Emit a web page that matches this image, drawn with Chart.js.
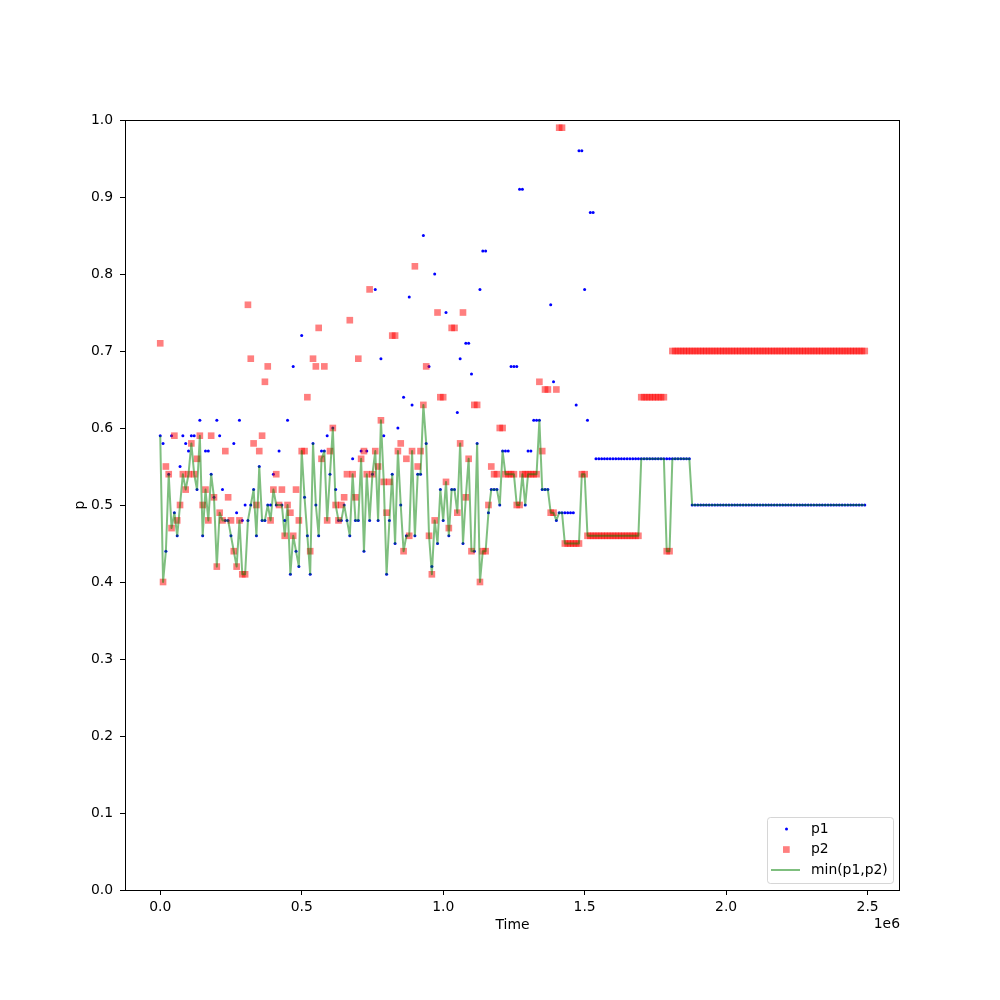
<!DOCTYPE html>
<html>
<head>
<meta charset="utf-8">
<script src="https://cdn.jsdelivr.net/npm/chart.js@4.4.1/dist/chart.umd.min.js"></script>
<style>
  html, body { margin: 0; padding: 0; background: #fff; }
</style>
</head>
<body>
<canvas id="chart" width="1000" height="1000"></canvas>
<script>
// time axis, in steps of 10 000
const timeSteps = [
  0,1,2,3,4,5,6,7,8,9,10,11,12,13,14,15,16,17,18,19,20,21,22,23,24,
  25,26,27,28,29,30,31,32,33,34,35,36,37,38,39,40,41,42,43,44,45,46,47,48,49,
  50,51,52,53,54,55,56,57,58,59,60,61,62,63,64,65,66,67,68,69,70,71,72,73,74,
  75,76,77,78,79,80,81,82,83,84,85,86,87,88,89,90,91,92,93,94,95,96,97,98,99,
  100,101,102,103,104,105,106,107,108,109,110,111,112,113,114,115,116,117,118,119,120,121,122,123,124,
  125,126,127,128,129,130,131,132,133,134,135,136,137,138,139,140,141,142,143,144,145,146,147,148,149,
  150,151,152,153,154,155,156,157,158,159,160,161,162,163,164,165,166,167,168,169,170,171,172,173,174,
  175,176,177,178,179,180,181,182,183,184,185,186,187,188,189,190,191,192,193,194,195,196,197,198,199,
  200,201,202,203,204,205,206,207,208,209,210,211,212,213,214,215,216,217,218,219,220,221,222,223,224,
  225,226,227,228,229,230,231,232,233,234,235,236,237,238,239,240,241,242,243,244,245,246,247,248,249
];
const TIME_UNIT = 10000;

const p1 = [
  0.59,0.58,0.44,0.54,0.59,0.49,0.46,0.55,0.59,0.58,
  0.57,0.59,0.59,0.52,0.61,0.46,0.57,0.57,0.54,0.51,
  0.61,0.59,0.52,0.48,0.48,0.46,0.58,0.49,0.61,0.48,
  0.50,0.48,0.50,0.52,0.46,0.55,0.48,0.48,0.50,0.50,
  0.54,0.50,0.57,0.50,0.48,0.61,0.41,0.68,0.44,0.42,
  0.72,0.51,0.46,0.41,0.58,0.50,0.46,0.57,0.57,0.59,
  0.54,0.60,0.52,0.48,0.48,0.50,0.48,0.46,0.56,0.48,
  0.48,0.57,0.44,0.57,0.48,0.54,0.78,0.48,0.69,0.59,
  0.41,0.48,0.54,0.45,0.60,0.50,0.64,0.46,0.77,0.63,
  0.46,0.54,0.54,0.85,0.58,0.68,0.42,0.80,0.45,0.52,
  0.48,0.75,0.46,0.52,0.52,0.62,0.69,0.45,0.71,0.71,
  0.67,0.44,0.58,0.78,0.83,0.83,0.49,0.52,0.52,0.52,
  0.50,0.57,0.57,0.57,0.68,0.68,0.68,0.91,0.91,0.50,
  0.57,0.57,0.61,0.61,0.61,0.52,0.52,0.52,0.76,0.66,
  0.48,0.49,0.49,0.49,0.49,0.49,0.49,0.63,0.96,0.96,
  0.78,0.61,0.88,0.88,0.56,0.56,0.56,0.56,0.56,0.56,
  0.56,0.56,0.56,0.56,0.56,0.56,0.56,0.56,0.56,0.56,
  0.56,0.56,0.56,0.56,0.56,0.56,0.56,0.56,0.56,0.56,
  0.56,0.56,0.56,0.56,0.56,0.56,0.56,0.56,0.50,0.50,
  0.50,0.50,0.50,0.50,0.50,0.50,0.50,0.50,0.50,0.50,
  0.50,0.50,0.50,0.50,0.50,0.50,0.50,0.50,0.50,0.50,
  0.50,0.50,0.50,0.50,0.50,0.50,0.50,0.50,0.50,0.50,
  0.50,0.50,0.50,0.50,0.50,0.50,0.50,0.50,0.50,0.50,
  0.50,0.50,0.50,0.50,0.50,0.50,0.50,0.50,0.50,0.50,
  0.50,0.50,0.50,0.50,0.50,0.50,0.50,0.50,0.50,0.50
];

const p2 = [
  0.71,0.40,0.55,0.54,0.47,0.59,0.48,0.50,0.54,0.52,
  0.54,0.58,0.54,0.56,0.59,0.50,0.52,0.48,0.59,0.51,
  0.42,0.49,0.48,0.57,0.51,0.48,0.44,0.42,0.48,0.41,
  0.41,0.76,0.69,0.58,0.50,0.57,0.59,0.66,0.68,0.48,
  0.52,0.54,0.50,0.52,0.46,0.50,0.49,0.46,0.52,0.48,
  0.57,0.57,0.64,0.44,0.69,0.68,0.73,0.56,0.68,0.48,
  0.57,0.60,0.50,0.48,0.50,0.51,0.54,0.74,0.54,0.51,
  0.69,0.56,0.57,0.54,0.78,0.54,0.57,0.55,0.61,0.53,
  0.49,0.53,0.72,0.72,0.57,0.58,0.44,0.56,0.46,0.57,
  0.81,0.55,0.57,0.63,0.68,0.46,0.41,0.48,0.75,0.64,
  0.64,0.53,0.47,0.73,0.73,0.49,0.58,0.75,0.51,0.56,
  0.44,0.63,0.63,0.40,0.44,0.44,0.50,0.55,0.54,0.54,
  0.60,0.60,0.54,0.54,0.54,0.54,0.50,0.50,0.54,0.54,
  0.54,0.54,0.54,0.54,0.66,0.57,0.65,0.65,0.49,0.49,
  0.65,0.99,0.99,0.45,0.45,0.45,0.45,0.45,0.45,0.54,
  0.54,0.46,0.46,0.46,0.46,0.46,0.46,0.46,0.46,0.46,
  0.46,0.46,0.46,0.46,0.46,0.46,0.46,0.46,0.46,0.46,
  0.64,0.64,0.64,0.64,0.64,0.64,0.64,0.64,0.64,0.44,
  0.44,0.70,0.70,0.70,0.70,0.70,0.70,0.70,0.70,0.70,
  0.70,0.70,0.70,0.70,0.70,0.70,0.70,0.70,0.70,0.70,
  0.70,0.70,0.70,0.70,0.70,0.70,0.70,0.70,0.70,0.70,
  0.70,0.70,0.70,0.70,0.70,0.70,0.70,0.70,0.70,0.70,
  0.70,0.70,0.70,0.70,0.70,0.70,0.70,0.70,0.70,0.70,
  0.70,0.70,0.70,0.70,0.70,0.70,0.70,0.70,0.70,0.70,
  0.70,0.70,0.70,0.70,0.70,0.70,0.70,0.70,0.70,0.70
];

const xTicks = [0, 500000, 1000000, 1500000, 2000000, 2500000];
const yTicks = [0, 0.1, 0.2, 0.3, 0.4, 0.5, 0.6, 0.7, 0.8, 0.9, 1.0];
const seriesLabels = ['p1', 'p2', 'min(p1,p2)'];

const FONT = "'DejaVu Sans', sans-serif";
Chart.defaults.font.family = FONT;
Chart.defaults.font.size = 13.9;
Chart.defaults.color = '#000';

const times = timeSteps.map(k => k * TIME_UNIT);
const toPoints = vals => vals.map((v, i) => ({ x: times[i], y: v }));
const minSeries = p1.map((v, i) => Math.min(v, p2[i]));

// frame, axis labels, offset text and a matplotlib-like legend
const decorations = {
  id: 'decorations',
  afterDraw(chart) {
    const { ctx, chartArea: a } = chart;
    ctx.save();
    ctx.strokeStyle = '#000';
    ctx.lineWidth = 1;
    ctx.strokeRect(a.left + 0.5, a.top + 0.5, a.right - a.left - 1, a.bottom - a.top);

    ctx.fillStyle = '#000';
    ctx.font = '13.9px ' + FONT;
    ctx.textBaseline = 'middle';
    ctx.textAlign = 'center';
    ctx.fillText('Time', (a.left + a.right) / 2, 925);
    ctx.textAlign = 'right';
    ctx.fillText('1e6', a.right, 924);
    ctx.save();
    ctx.translate(80, (a.top + a.bottom) / 2);
    ctx.rotate(-Math.PI / 2);
    ctx.textAlign = 'center';
    ctx.fillText('p', 0, 0);
    ctx.restore();

    // legend
    const lx = 767, ly = 817, lw = 126, lh = 66;
    ctx.beginPath();
    ctx.roundRect(lx + 0.5, ly + 0.5, lw, lh, 3);
    ctx.fillStyle = 'rgba(255,255,255,0.8)';
    ctx.fill();
    ctx.strokeStyle = 'rgba(204,204,204,0.8)';
    ctx.stroke();

    const rows = [829, 849.5, 870];
    ctx.fillStyle = '#0000ff';
    ctx.beginPath();
    ctx.arc(786.5, rows[0], 1.5, 0, Math.PI * 2);
    ctx.fill();
    ctx.fillStyle = 'rgba(255,0,0,0.5)';
    ctx.fillRect(783, rows[1] - 3.3, 6.7, 6.7);
    ctx.strokeStyle = 'rgba(0,128,0,0.5)';
    ctx.lineWidth = 2;
    ctx.beginPath();
    ctx.moveTo(771, rows[2]);
    ctx.lineTo(800, rows[2]);
    ctx.stroke();

    ctx.fillStyle = '#000';
    ctx.textAlign = 'left';
    seriesLabels.forEach((t, i) => ctx.fillText(t, 811, rows[i]));
    ctx.restore();
  }
};

new Chart(document.getElementById('chart').getContext('2d'), {
  type: 'scatter',
  data: {
    datasets: [
      {
        label: seriesLabels[0],
        data: toPoints(p1),
        pointStyle: 'circle',
        pointRadius: 1.5,
        backgroundColor: '#0000ff',
        borderWidth: 0,
        order: 3
      },
      {
        label: seriesLabels[1],
        data: toPoints(p2),
        pointStyle: 'rect',
        pointRadius: 4.7,
        backgroundColor: 'rgba(255,0,0,0.5)',
        borderWidth: 0,
        order: 2
      },
      {
        label: seriesLabels[2],
        data: toPoints(minSeries),
        showLine: true,
        pointRadius: 0,
        borderColor: 'rgba(0,128,0,0.5)',
        borderWidth: 2,
        borderJoinStyle: 'round',
        fill: false,
        order: 1
      }
    ]
  },
  options: {
    responsive: false,
    animation: false,
    events: [],
    layout: { padding: { left: 0, top: 120, right: 100, bottom: 0 } },
    plugins: {
      legend: { display: false },
      tooltip: { enabled: false }
    },
    scales: {
      x: {
        type: 'linear',
        position: 'bottom',
        min: -124500,
        max: 2614500,
        grid: { drawOnChartArea: false, drawTicks: true, tickLength: 5, tickColor: '#000' },
        border: { display: false },
        ticks: {
          padding: 4,
          maxRotation: 0,
          callback: value => (value / 1e6).toFixed(1)
        },
        afterBuildTicks: scale => { scale.ticks = xTicks.map(v => ({ value: v })); },
        afterFit: scale => { scale.height = 110; }
      },
      y: {
        type: 'linear',
        min: 0,
        max: 1,
        grid: { drawOnChartArea: false, drawTicks: true, tickLength: 5, tickColor: '#000' },
        border: { display: false },
        ticks: {
          padding: 7,
          callback: value => value.toFixed(1)
        },
        afterBuildTicks: scale => { scale.ticks = yTicks.map(v => ({ value: v })); },
        afterFit: scale => { scale.width = 125; }
      }
    }
  },
  plugins: [decorations]
});
</script>
</body>
</html>
